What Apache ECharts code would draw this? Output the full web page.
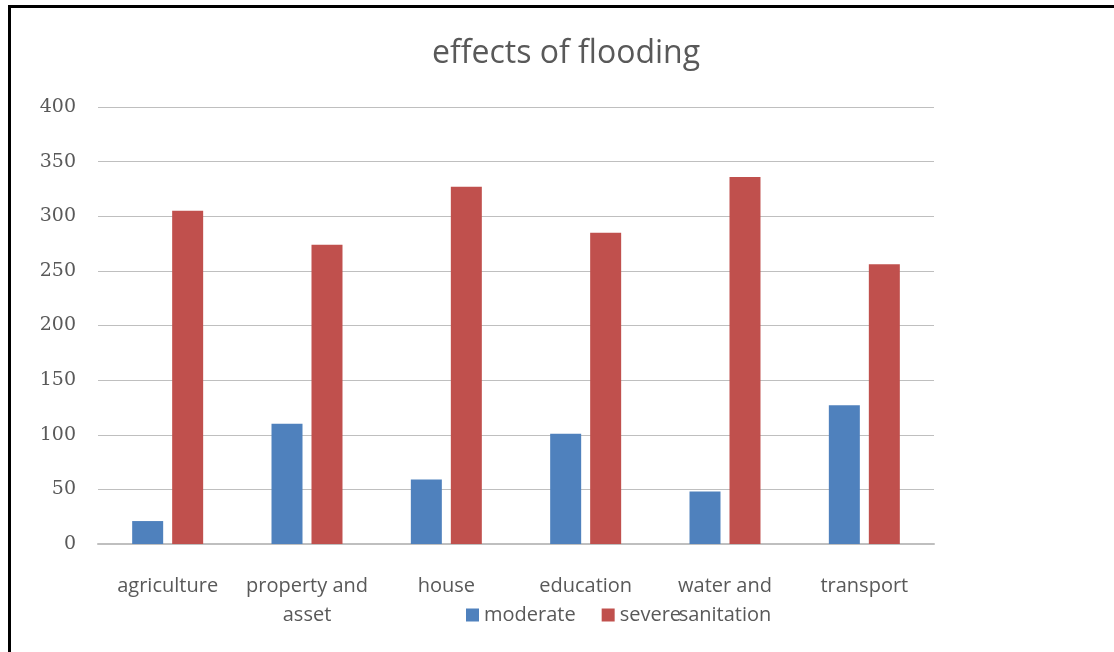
<!DOCTYPE html>
<html>
<head>
<meta charset="utf-8">
<title>effects of flooding</title>
<script src="https://cdn.jsdelivr.net/npm/echarts@6/dist/echarts.min.js"></script>
<style>
  html, body { margin: 0; padding: 0; background: #ffffff; }
  #chart { width: 1114px; height: 652px; }
</style>
</head>
<body>
<div id="chart"></div>
<script>
// Flood impact survey: number of responses per sector
const categories = ['agriculture', 'property and asset', 'house', 'education', 'water and sanitation', 'transport'];
const categoryLabels = ['agriculture', 'property and\nasset', 'house', 'education', 'water and\nsanitation', 'transport'];
const moderate = [21, 110, 59, 101, 48, 127];
const severe = [305, 274, 327, 285, 336, 256];
const yTicks = { min: 0, max: 400, interval: 50 };

const labelColor = '#595959';
const gridColor = '#BFBFBF';

const chart = echarts.init(document.getElementById('chart'), null, { renderer: 'canvas' });

chart.setOption({
  backgroundColor: '#ffffff',
  animation: false,
  title: {
    text: 'effects of flooding',
    left: 561,
    top: 33,
    textAlign: 'center',
    textStyle: {
      fontFamily: 'Open Sans',
      fontSize: 32,
      fontWeight: 'normal',
      color: labelColor
    }
  },
  legend: {
    left: 461,
    top: 600,
    itemWidth: 13,
    itemHeight: 13,
    itemGap: 26,
    icon: 'rect',
    textStyle: {
      fontFamily: 'Open Sans',
      fontSize: 20,
      color: labelColor
    },
    data: ['moderate', 'severe']
  },
  grid: {
    left: 98,
    right: 180,
    top: 107,
    bottom: 108,
    containLabel: false
  },
  xAxis: {
    type: 'category',
    data: categories,
    axisLine: { show: true, lineStyle: { color: gridColor, width: 2 } },
    axisTick: { show: false },
    axisLabel: {
      interval: 0,
      margin: 28,
      fontFamily: 'Open Sans',
      fontSize: 20,
      lineHeight: 29,
      color: labelColor,
      formatter: (value, idx) => categoryLabels[idx]
    }
  },
  yAxis: {
    type: 'value',
    min: yTicks.min,
    max: yTicks.max,
    interval: yTicks.interval,
    axisLine: { show: false },
    axisTick: { show: false },
    splitLine: { lineStyle: { color: gridColor, width: 1 } },
    axisLabel: {
      margin: 22,
      fontFamily: 'DejaVu Serif',
      fontSize: 19,
      color: labelColor
    }
  },
  series: [
    {
      name: 'moderate',
      type: 'bar',
      data: moderate,
      barWidth: 31,
      barGap: '29%',
      itemStyle: { color: '#4F81BD' }
    },
    {
      name: 'severe',
      type: 'bar',
      data: severe,
      barWidth: 31,
      itemStyle: { color: '#C0504D' }
    }
  ],
  graphic: [
    {
      type: 'polyline',
      silent: true,
      shape: { points: [[9.5, 652], [9.5, 6.5], [1114, 6.5]] },
      style: { stroke: '#000000', lineWidth: 3, fill: null }
    }
  ]
});
</script>
</body>
</html>
